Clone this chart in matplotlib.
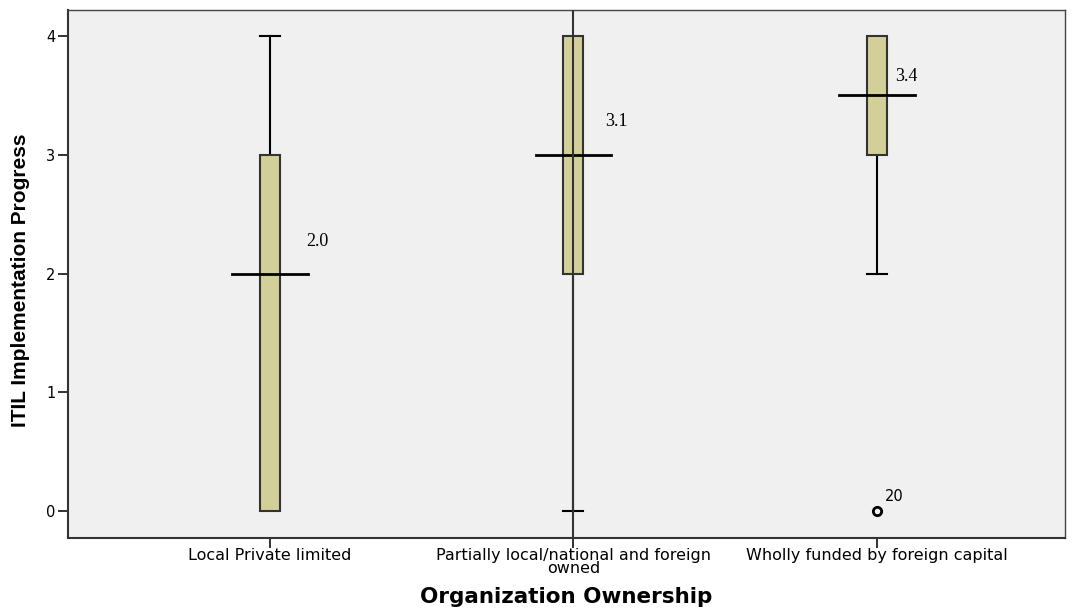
import matplotlib
matplotlib.use("Agg")
import matplotlib.pyplot as plt
from matplotlib.patches import Rectangle

categories = ["Local Private limited",
              "Partially local/national and foreign\nowned",
              "Wholly funded by foreign capital"]
q1 = [0, 2, 3]
q3 = [3, 4, 4]
whisk_low = [0, 0, 2]
whisk_high = [4, 4, 4]
center_line = [2.0, 3.0, 3.5]
mean_labels = ["2.0", "3.1", "3.4"]
outlier_x = [2]
outlier_y = [0]
outlier_labels = ["20"]
yticks = [0, 1, 2, 3, 4]

fig = plt.figure(figsize=(10.73, 6.11), dpi=100)
ax = fig.add_axes([68/1073, 1-538/611, (1065-68)/1073, (538-10)/611])
ax.set_facecolor("#F0F0F0")
ax.set_xlim(-0.666, 2.62)
ax.set_ylim(-0.227, 4.22)

bw = 0.066
cap = 0.033
mw = 0.125
box_color = "#D3CF99"
for i in range(3):
    if whisk_high[i] > q3[i]:
        ax.plot([i, i], [q3[i], whisk_high[i]], color="black", lw=1.5, zorder=2)
        ax.plot([i - cap, i + cap], [whisk_high[i]] * 2, color="black", lw=1.5, zorder=2)
    if whisk_low[i] < q1[i]:
        ax.plot([i, i], [whisk_low[i], q1[i]], color="black", lw=1.5, zorder=2)
        ax.plot([i - cap, i + cap], [whisk_low[i]] * 2, color="black", lw=1.5, zorder=2)
    ax.add_patch(Rectangle((i - bw / 2, q1[i]), bw, q3[i] - q1[i],
                           facecolor=box_color, edgecolor="#333333", lw=1.5, zorder=3))
    ax.plot([i - mw, i + mw], [center_line[i]] * 2, color="black", lw=2, zorder=4)

ax.axvline(1, color="#333333", lw=1.5, zorder=5)

label_pos = [(0.12, 2.27), (0.105, 3.28), (0.06, 3.66)]
for i, (dx, y) in enumerate(label_pos):
    ax.text(i + dx, y, mean_labels[i], fontsize=13, family="Liberation Serif",
            ha="left", va="center", zorder=6)

for x, y, lab in zip(outlier_x, outlier_y, outlier_labels):
    ax.plot([x], [y], marker="o", ms=6, mfc="none", mec="black", mew=2, ls="none", zorder=6)
    ax.text(x + 0.025, y + 0.06, lab, fontsize=10.5, family="DejaVu Sans",
            ha="left", va="bottom")

ax.set_xticks(range(3))
ax.set_xticklabels(categories, fontsize=11.5, family="DejaVu Sans", linespacing=0.82)
ax.set_yticks(yticks)
ax.set_yticklabels([str(v) for v in yticks], fontsize=10.5, family="DejaVu Sans")
ax.tick_params(axis="both", length=7, width=1.3, color="#222222", pad=2)
ax.tick_params(axis="x", pad=0)

for side in ["left", "bottom"]:
    ax.spines[side].set_linewidth(1.5)
    ax.spines[side].set_color("#333333")
for side in ["top", "right"]:
    ax.spines[side].set_linewidth(1.0)
    ax.spines[side].set_color("#444444")

fig.text(566/1073, 1-597/611, "Organization Ownership", fontsize=15.5,
         fontweight="bold", family="DejaVu Sans", ha="center", va="center")
ax.set_ylabel("ITIL Implementation Progress", fontsize=15, fontweight="bold",
              family="Liberation Sans")
ax.yaxis.set_label_coords(-38/997, (538-280)/528)

fig.savefig("out.png", dpi=100)
